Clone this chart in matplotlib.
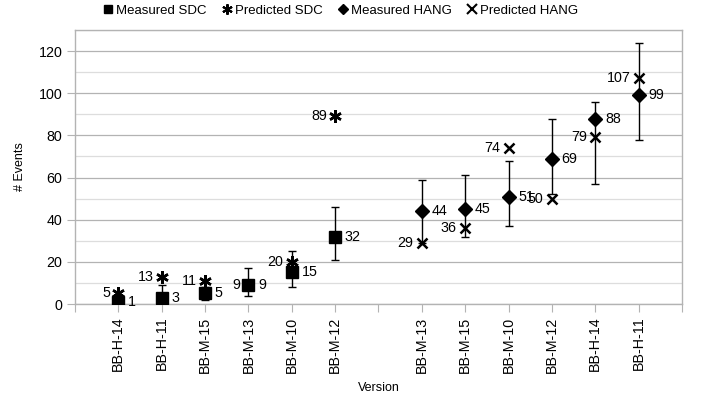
import numpy as np
import matplotlib
matplotlib.use("Agg")
import matplotlib.pyplot as plt
from matplotlib.lines import Line2D

plt.rcParams['font.family'] = ['Liberation Sans', 'DejaVu Sans']

categories = ["BB-H-14", "BB-H-11", "BB-M-15", "BB-M-13", "BB-M-10", "BB-M-12", "",
              "BB-M-13", "BB-M-15", "BB-M-10", "BB-M-12", "BB-H-14", "BB-H-11"]
nan = np.nan
measured_sdc = [1, 3, 5, 9, 15, 32, nan, nan, nan, nan, nan, nan, nan]
sdc_low = [0, 1, 2, 4, 8, 21, nan, nan, nan, nan, nan, nan, nan]
sdc_high = [4, 9, 8, 17, 25, 46, nan, nan, nan, nan, nan, nan, nan]
predicted_sdc = [5, 13, 11, 9, 20, 89, nan, nan, nan, nan, nan, nan, nan]
measured_hang = [nan, nan, nan, nan, nan, nan, nan, 44, 45, 51, 69, 88, 99]
hang_low = [nan, nan, nan, nan, nan, nan, nan, 29, 32, 37, 52, 57, 78]
hang_high = [nan, nan, nan, nan, nan, nan, nan, 59, 61, 68, 88, 96, 124]
predicted_hang = [nan, nan, nan, nan, nan, nan, nan, 29, 36, 74, 50, 79, 107]

x = np.arange(len(categories))
fig = plt.figure(figsize=(7.02, 4.0), dpi=100)
ax = fig.add_axes([75/702, 1-304/400, (682-75)/702, (304-30)/400])

ax.set_xlim(-1, 13)
ax.set_ylim(0, 130)
ax.set_yticks(np.arange(0, 121, 20))
ax.set_yticks(np.arange(10, 131, 20), minor=True)
ax.grid(True, which='major', axis='y', color='#b3b3b3', lw=0.9)
ax.grid(True, which='minor', axis='y', color='#dddddd', lw=0.9)
ax.set_axisbelow(True)
for s in ax.spines.values():
    s.set_color('#b3b3b3')
    s.set_linewidth(1.0)
ax.tick_params(axis='y', which='major', colors='#b3b3b3', labelcolor='black', length=6,
               labelsize=10.3, pad=3)
ax.tick_params(axis='y', which='minor', length=0)
ax.set_xticks(np.arange(-1, 14))
ax.set_xticklabels([""] + categories + [""], rotation=90, fontsize=10.3)
ax.tick_params(axis='x', colors='#b3b3b3', labelcolor='black', length=6, pad=3)

ms = np.array(measured_sdc, float)
mh = np.array(measured_hang, float)
ax.errorbar(x, ms, yerr=[ms - np.array(sdc_low), np.array(sdc_high) - ms], fmt='none',
            ecolor='black', elinewidth=1, capsize=3, capthick=1, zorder=3)
ax.errorbar(x, mh, yerr=[mh - np.array(hang_low), np.array(hang_high) - mh], fmt='none',
            ecolor='black', elinewidth=1, capsize=3, capthick=1, zorder=3)

ast = (6, 2, 0)
ax.plot(x, predicted_sdc, ls='none', marker=ast, ms=9, mec='black', mew=1.8, zorder=4)
ax.plot(x, measured_sdc, ls='none', marker='s', ms=8.2, color='black', zorder=5)
ax.plot(x, measured_hang, ls='none', marker='D', ms=6.8, color='black', zorder=5)
ax.plot(x, predicted_hang, ls='none', marker='x', ms=7.7, mec='black', mew=1.8, zorder=6)

def lab(vals, side):
    for xi, v in zip(x, vals):
        if np.isnan(v):
            continue
        if side == 'r':
            ax.annotate(f"{int(v)}", (xi, v), xytext=(7, 0), textcoords='offset points',
                        ha='left', va='center', fontsize=10.3)
        else:
            ax.annotate(f"{int(v)}", (xi, v), xytext=(-6, 0), textcoords='offset points',
                        ha='right', va='center', fontsize=10.3)

lab(measured_sdc, 'r')
lab(predicted_sdc, 'l')
lab(measured_hang, 'r')
lab(predicted_hang, 'l')

ax.set_ylabel("# Events", fontsize=9, labelpad=9)
ax.set_xlabel("Version", fontsize=9, labelpad=7)

handles = [
    Line2D([], [], ls='none', marker='s', ms=6, color='black'),
    Line2D([], [], ls='none', marker=ast, ms=7.5, mec='black', mew=1.5),
    Line2D([], [], ls='none', marker='D', ms=5, color='black'),
    Line2D([], [], ls='none', marker='x', ms=7, mec='black', mew=1.5),
]
fig.legend(handles, ["Measured SDC", "Predicted SDC", "Measured HANG", "Predicted HANG"],
           loc='center', bbox_to_anchor=(341/702, 1-11/400), ncol=4, frameon=False,
           fontsize=9.5, handlelength=0.7, handletextpad=0.25, columnspacing=1.2,
           borderpad=0)

fig.savefig("out.png", dpi=100)
